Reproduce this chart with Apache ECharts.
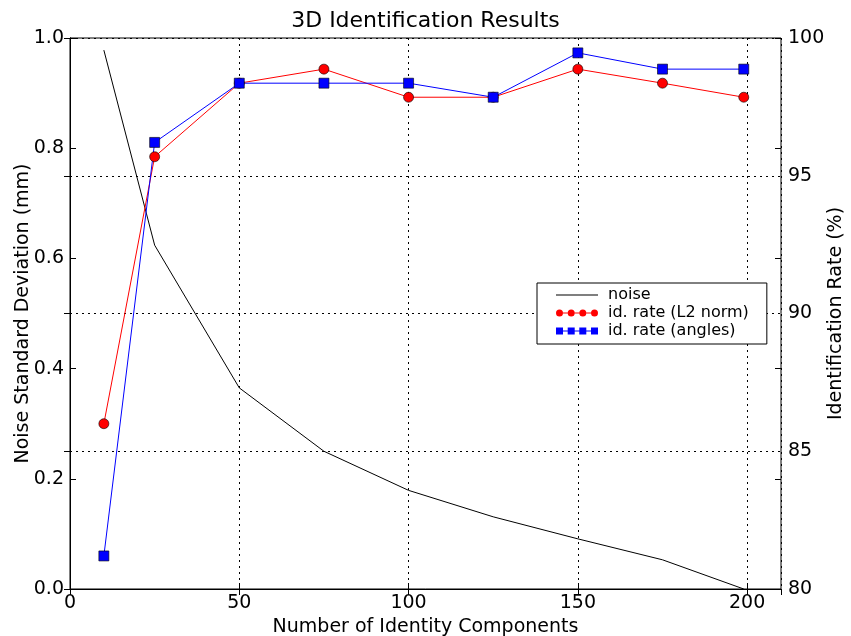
<!DOCTYPE html>
<html>
<head>
    <meta charset="utf-8" />
    <title>3D Identification Results</title>
    <script src="https://cdnjs.cloudflare.com/ajax/libs/echarts/6.0.0/echarts.min.js"></script>
    <style>
        html, body { margin: 0; padding: 0; overflow: hidden; background: #fff; }
    </style>
</head>
<body>
    <div id="chart" style="width: 851px;height:636px;"></div>
    <script type="text/javascript">
        // number of identity components
        var components = [10, 25, 50, 75, 100, 125, 150, 175, 199];
        // noise std deviation (mm), left axis
        var noise = [0.978, 0.624, 0.365, 0.25, 0.179, 0.131, 0.091, 0.053, 0.0];
        // identification rates (%), right axis
        var rateL2 = [86.0, 95.69, 98.36, 98.87, 97.85, 97.85, 98.87, 98.36, 97.85];
        var rateAngles = [81.2, 96.21, 98.36, 98.36, 98.36, 97.85, 99.46, 98.87, 98.87];

        var fontFamily = 'DejaVu Sans';

        function pairs(xs, ys) {
            return xs.map(function (x, i) { return [x, ys[i]]; });
        }

        // legend icons: a short line with four markers, like the matplotlib legend
        var iconLine = 'path://M0,3.5L42,3.5L42,4.5L0,4.5Z';
        var iconCircles = 'path://' +
            'M0,4a3.5,3.5 0 1,0 7,0a3.5,3.5 0 1,0 -7,0Z' +
            'M11.7,4a3.5,3.5 0 1,0 7,0a3.5,3.5 0 1,0 -7,0Z' +
            'M23.3,4a3.5,3.5 0 1,0 7,0a3.5,3.5 0 1,0 -7,0Z' +
            'M35,4a3.5,3.5 0 1,0 7,0a3.5,3.5 0 1,0 -7,0Z' +
            'M7,3.5L11.7,3.5L11.7,4.5L7,4.5Z' +
            'M18.7,3.5L23.3,3.5L23.3,4.5L18.7,4.5Z' +
            'M30.3,3.5L35,3.5L35,4.5L30.3,4.5Z';
        var iconSquares = 'path://' +
            'M0,0.5L7,0.5L7,7.5L0,7.5Z' +
            'M11.7,0.5L18.7,0.5L18.7,7.5L11.7,7.5Z' +
            'M23.3,0.5L30.3,0.5L30.3,7.5L23.3,7.5Z' +
            'M35,0.5L42,0.5L42,7.5L35,7.5Z' +
            'M7,3.5L11.7,3.5L11.7,4.5L7,4.5Z' +
            'M18.7,3.5L23.3,3.5L23.3,4.5L18.7,4.5Z' +
            'M30.3,3.5L35,3.5L35,4.5L30.3,4.5Z';

        var tick = { show: true, inside: true, length: 6, lineStyle: { color: '#000' } };

        var chart = echarts.init(document.getElementById('chart'));
        var option = {
            animation: false,
            textStyle: { fontFamily: fontFamily, color: '#000' },
            title: {
                text: '3D Identification Results',
                left: 'center',
                top: 5,
                textStyle: { fontFamily: fontFamily, fontSize: 22, fontWeight: 'normal', color: '#000' }
            },
            legend: {
                orient: 'vertical',
                left: 537,
                top: 283,
                padding: [4, 18, 5, 19],
                itemGap: 2,
                itemWidth: 42,
                itemHeight: 14,
                borderColor: '#000',
                borderWidth: 1,
                borderRadius: 0,
                backgroundColor: '#fff',
                textStyle: { fontFamily: fontFamily, fontSize: 16, color: '#000', padding: [0, 0, 0, 5] },
                data: [
                    { name: 'noise', icon: iconLine, itemStyle: { borderWidth: 0 } },
                    { name: 'id. rate (L2 norm)', icon: iconCircles, itemStyle: { borderWidth: 0 } },
                    { name: 'id. rate (angles)', icon: iconSquares, itemStyle: { borderWidth: 0 } }
                ]
            },
            grid: {
                left: 70,
                right: 70,
                top: 38,
                bottom: 47,
                outerBoundsMode: 'none',
                show: true,
                borderColor: '#000',
                borderWidth: 1
            },
            xAxis: [{
                type: 'value',
                min: 0,
                max: 210,
                interval: 50,
                name: 'Number of Identity Components',
                nameLocation: 'middle',
                nameGap: 26,
                nameTextStyle: { fontFamily: fontFamily, fontSize: 19, color: '#000' },
                axisLine: { lineStyle: { color: '#000' } },
                axisTick: tick,
                axisLabel: { showMaxLabel: false, margin: 5, fontFamily: fontFamily, fontSize: 19, color: '#000' },
                splitLine: { show: true, lineStyle: { color: '#000', type: [2, 4] } }
            }, {
                // mirrored ticks along the top edge
                type: 'value',
                position: 'top',
                min: 0,
                max: 210,
                interval: 50,
                axisLine: { lineStyle: { color: '#000' } },
                axisTick: tick,
                axisLabel: { show: false },
                splitLine: { show: false }
            }],
            yAxis: [{
                type: 'value',
                min: 0,
                max: 1,
                interval: 0.2,
                name: 'Noise Standard Deviation (mm)',
                nameLocation: 'middle',
                nameRotate: 90,
                nameGap: 37,
                nameMoveOverlap: false,
                nameTextStyle: { fontFamily: fontFamily, fontSize: 19, color: '#000' },
                axisLine: { show: true, lineStyle: { color: '#000' } },
                axisTick: tick,
                axisLabel: {
                    margin: 6, fontFamily: fontFamily, fontSize: 19, color: '#000',
                    formatter: function (v) { return v.toFixed(1); }
                },
                splitLine: { show: false }
            }, {
                type: 'value',
                min: 80,
                max: 100,
                interval: 5,
                position: 'right',
                name: 'Identification Rate (%)',
                nameLocation: 'middle',
                nameRotate: 90,
                nameGap: 46,
                nameMoveOverlap: false,
                nameTextStyle: { fontFamily: fontFamily, fontSize: 19, color: '#000' },
                axisLine: { show: true, lineStyle: { color: '#000' } },
                axisTick: tick,
                axisLabel: { margin: 7, fontFamily: fontFamily, fontSize: 19, color: '#000' },
                splitLine: { show: true, lineStyle: { color: '#000', type: [2, 4] } }
            }, {
                // left-axis ticks mirrored on the right edge
                type: 'value',
                min: 0,
                max: 1,
                interval: 0.2,
                position: 'right',
                axisLine: { show: false },
                axisTick: tick,
                axisLabel: { show: false },
                splitLine: { show: false }
            }],
            series: [{
                name: 'noise',
                type: 'line',
                yAxisIndex: 0,
                data: pairs(components, noise),
                showSymbol: false,
                symbol: 'none',
                lineStyle: { color: '#000', width: 1 },
                itemStyle: { color: '#000' }
            }, {
                name: 'id. rate (L2 norm)',
                type: 'line',
                yAxisIndex: 1,
                data: pairs(components, rateL2),
                symbol: 'circle',
                symbolSize: 10,
                lineStyle: { color: '#ff0000', width: 1 },
                itemStyle: { color: '#ff0000', borderColor: '#000', borderWidth: 0.6 }
            }, {
                name: 'id. rate (angles)',
                type: 'line',
                yAxisIndex: 1,
                data: pairs(components, rateAngles),
                symbol: 'rect',
                symbolSize: 10,
                lineStyle: { color: '#0000ff', width: 1 },
                itemStyle: { color: '#0000ff', borderColor: '#000', borderWidth: 0.6 }
            }]
        };
        chart.setOption(option);
    </script>
</body>
</html>
